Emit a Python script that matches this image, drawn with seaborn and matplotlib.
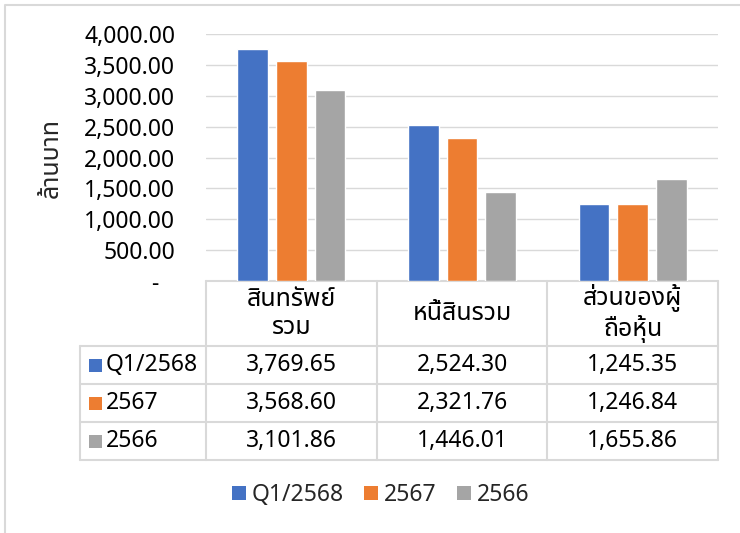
import matplotlib
matplotlib.use("Agg")
import matplotlib.pyplot as plt
import matplotlib.transforms as mtransforms
from matplotlib.patches import Patch
import seaborn as sns
import pandas as pd

# ---- data ----
categories = ["สินทรัพย์\nรวม", "หนี้สินรวม", "ส่วนของผู้\nถือหุ้น"]
series_names = ["Q1/2568", "2567", "2566"]
q1_2568 = [3769.65, 2524.30, 1245.35]
y2567 = [3568.60, 2321.76, 1246.84]
y2566 = [3101.86, 1446.01, 1655.86]
yticks = [0, 500, 1000, 1500, 2000, 2500, 3000, 3500, 4000]
ylabel = "ล้านบาท"
colors = ["#4472C4", "#ED7D31", "#A5A5A5"]

values = [q1_2568, y2567, y2566]
rows = []
for s, vals in zip(series_names, values):
    for c, v in zip(categories, vals):
        rows.append({"cat": c, "series": s, "val": v})
df = pd.DataFrame(rows)

sns.set_style("white")
plt.rcParams["font.family"] = ["Noto Sans", "Noto Sans Thai", "DejaVu Sans"]
FS = 16.5
FS_TH = 18
plt.rcParams["font.size"] = FS

W, H = 740, 533
fig = plt.figure(figsize=(W / 100, H / 100), dpi=100)

# overlay axes in pixel coordinates
ov = fig.add_axes([0, 0, 1, 1], zorder=0)
ov.set_xlim(0, W)
ov.set_ylim(H, 0)
ov.axis("off")

L, R, T, B = 206, 718, 34.3, 281
ax = fig.add_axes([L / W, 1 - B / H, (R - L) / W, (B - T) / H], zorder=1)
ax.patch.set_alpha(0)

sns.barplot(data=df, x="cat", y="val", hue="series", palette=colors,
            hue_order=series_names, order=categories, width=0.68, gap=0.2,
            saturation=1, legend=False, ax=ax, zorder=3)
ax.set_xlim(-0.5, len(categories) - 0.5)
ax.set_ylim(0, 4000)
ax.set_yticks(yticks)
ax.set_yticklabels(["-"] + [f"{v:,.2f}" for v in yticks[1:]])
ax.tick_params(axis="y", length=0, pad=22.3, labelsize=FS, labelcolor="black")
ax.set_xticks([])
ax.set_xlabel("")
for sp in ax.spines.values():
    sp.set_visible(False)
ax.grid(axis="y", color="#D9D9D9", linewidth=1.0, zorder=0)
ax.set_axisbelow(True)
ax.set_ylabel(ylabel, fontsize=FS_TH, va="center")
ax.yaxis.set_label_coords(-(L - 51) / (R - L), 0.5)

# shift the "-" zero label like Excel accounting format
fig.canvas.draw()
lab0 = ax.get_yticklabels()[0]
lab0.set_transform(lab0.get_transform() + mtransforms.ScaledTranslation(-17 / 100, 0, fig.dpi_scale_trans))

# ---- data table ----
gc = "#D9D9D9"
lw = 1.5
blend = mtransforms.blended_transform_factory(ax.transData, ov.transData)
row_tops = [281, 346, 384, 422, 460]
lab_left = 80
bounds = [-0.5 + i for i in range(len(categories) + 1)]
ov.plot([L, R], [281, 281], color=gc, lw=lw)
for y in row_tops[1:]:
    ov.plot([lab_left, R], [y, y], color=gc, lw=lw)
for b in bounds:
    ov.plot([b, b], [281, 460], color=gc, lw=lw, transform=blend)
ov.plot([lab_left, lab_left], [346, 460], color=gc, lw=lw)

for i, c in enumerate(categories):
    ov.text(i, 313.5, c, transform=blend, ha="center", va="center",
            fontsize=FS_TH, linespacing=1.15, color="black")
for r, (s, vals, col) in enumerate(zip(series_names, values, colors)):
    yc = (row_tops[r + 1] + row_tops[r + 2]) / 2
    ov.add_patch(plt.Rectangle((89, yc - 6.5), 13, 13, color=col, lw=0))
    ov.text(106, yc, s, ha="left", va="center", fontsize=FS, color="black")
    for i, v in enumerate(vals):
        ov.text(i, yc, f"{v:,.2f}", transform=blend, ha="center", va="center",
                fontsize=FS, color="black")

# chart frame (left and top edges visible)
ov.plot([4.5, 4.5, W], [H, 4.5, 4.5], color=gc, lw=1.5)

# ---- legend ----
handles = [Patch(facecolor=c, edgecolor="none") for c in colors]
fig.legend(handles, series_names, loc="center", bbox_to_anchor=(380.5 / W, 1 - 495 / H),
           ncol=3, frameon=False, fontsize=FS, handlelength=0.6, handleheight=0.6,
           handletextpad=0.25, columnspacing=0.9, borderaxespad=0)

fig.savefig("out.png", dpi=100)
